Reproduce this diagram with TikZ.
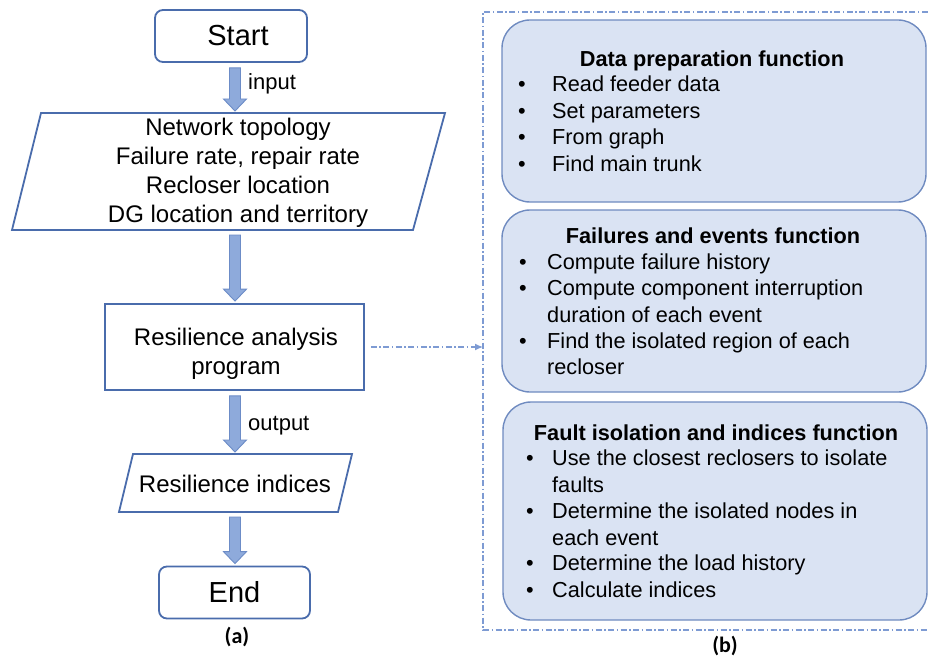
\documentclass[tikz,border=0pt]{standalone}
\usepackage{fontspec}
\setmainfont{Liberation Sans}
\newfontfamily\capfont{Carlito}
\usetikzlibrary{calc,arrows.meta}

\definecolor{outln}{HTML}{4A6CAC}
\definecolor{arrfill}{HTML}{8EAADB}
\definecolor{arrline}{HTML}{6C8CC7}
\definecolor{fnfill}{HTML}{DAE3F3}
\definecolor{fnline}{HTML}{6F8BC0}
\definecolor{dashc}{HTML}{7E9BD3}

% vertical block arrow between two anchors, on the flowchart axis
\newcommand{\blockarrow}[2]{%
  \path[blockarr] let \p1=(#1), \p2=(#2) in
    ({235pt-5.5pt},{\y1-5pt}) -- ({235pt+5.5pt},{\y1-5pt}) --
    ({235pt+5.5pt},{\y2+14pt}) -- ({235pt+11.5pt},{\y2+14pt}) --
    ({235pt},{\y2+2pt}) -- ({235pt-11.5pt},{\y2+14pt}) --
    ({235pt-5.5pt},{\y2+14pt}) -- cycle;}

\begin{document}
\begin{tikzpicture}[x=1pt,y=-1pt,
  flowline/.style={draw=outln, line width=1.8pt},
  termbox/.style={flowline, rounded corners=8pt, minimum width=152pt,
    minimum height=52pt, inner sep=0pt, font=\fontsize{29}{34}\selectfont},
  procbox/.style={flowline, minimum width=259pt, minimum height=86pt, inner sep=0pt},
  ptext/.style={font=\fontsize{24}{29}\selectfont, align=center, inner sep=0pt},
  lbl/.style={font=\fontsize{22}{26}\selectfont, anchor=base west, inner sep=0pt},
  blockarr/.style={fill=arrfill, draw=arrline, line width=0.9pt, line join=miter},
  panel/.style={draw=dashc, line width=1.2pt,
    dash pattern=on 6pt off 2.5pt on 1.5pt off 2.5pt},
  link/.style={draw=dashc, line width=1.2pt,
    dash pattern=on 6pt off 2.5pt on 1.5pt off 2.5pt,
    -{Latex[length=8pt,width=7pt]}, shorten <=6pt},
  fnbox/.style={draw=fnline, fill=fnfill, line width=1.4pt, rounded corners=28pt,
    minimum width=424pt, minimum height=182pt, inner sep=0pt},
  fntitle/.style={font=\bfseries\fontsize{21.7}{26.5}\selectfont, anchor=base, inner sep=0pt},
  fnitem/.style={font=\fontsize{21.7}{26.5}\selectfont, anchor=base west, inner sep=0pt},
  fndot/.style={font=\fontsize{21.7}{26.5}\selectfont, anchor=base west, inner sep=0pt},
  sub/.style={font=\capfont\bfseries\fontsize{22}{26}\selectfont, anchor=base, inner sep=0pt}]
\useasboundingbox (0,0) rectangle (929,658);

% ---------- (a) flowchart ----------
\node[termbox] (start) at (231,36) {\hspace*{14pt}Start};

\draw[flowline] (41,113) -- (445,113) -- (413,230) -- (12,230) -- cycle;
\coordinate (in-n) at (235,113);
\coordinate (in-s) at (235,230);
\node[ptext] (inputs) at (238,172.8)
  {Network topology\\Failure rate, repair rate\\Recloser location\\DG location and territory};

\node[procbox] (prog) at (234.5,347) {};
\node[ptext] (progtext) at (236,353.3) {Resilience analysis\\program};

\draw[flowline] (133,454) -- (352,454) -- (338,512) -- (119,512) -- cycle;
\coordinate (out-n) at (235,454);
\coordinate (out-s) at (235,512);
\node[ptext] (results) at (235,484) {Resilience indices};

\node[termbox, minimum width=151pt] (end) at (234.5,592.5) {End};

\blockarrow{start.south}{in-n}
\blockarrow{in-s}{prog.north}
\blockarrow{prog.south}{out-n}
\blockarrow{out-s}{end.north}

\node[lbl] (inlbl) at (248,90) {input};
\node[lbl] (outlbl) at (248,430) {output};

\node[sub] (cap-a) at (237,643) {(a)};

% ---------- (b) program functions ----------
\draw[panel] (940,12) -- (483,12) -- (483,630) -- (940,630);
\coordinate (panel-in) at (483,346);
\draw[link] (prog.east) -- (prog.east -| panel-in);

\node[fnbox] (f1) at (714,111) {};
\node[fntitle] (f1t) at (712,67) {Data preparation function};
\node[fndot] (f1d1) at (518,92) {\textbullet};
\node[fnitem] (f1i1) at (552,92) {Read feeder data};
\node[fndot] (f1d2) at (518,118.5) {\textbullet};
\node[fnitem] (f1i2) at (552,118.5) {Set parameters};
\node[fndot] (f1d3) at (518,145) {\textbullet};
\node[fnitem] (f1i3) at (552,145) {From graph};
\node[fndot] (f1d4) at (518,171.5) {\textbullet};
\node[fnitem] (f1i4) at (552,171.5) {Find main trunk};

\node[fnbox] (f2) at (714,301) {};
\node[fntitle] (f2t) at (713,243) {Failures and events function};
\node[fndot] (f2d1) at (519,269) {\textbullet};
\node[fnitem] (f2i1) at (547,269) {Compute failure history};
\node[fndot] (f2d2) at (519,295.5) {\textbullet};
\node[fnitem] (f2i2) at (547,295.5) {Compute component interruption};
\node[fnitem] (f2i2b) at (547,322) {duration of each event};
\node[fndot] (f2d3) at (519,348) {\textbullet};
\node[fnitem] (f2i3) at (547,348) {Find the isolated region of each};
\node[fnitem] (f2i3b) at (547,374) {recloser};

\node[fnbox, minimum height=218pt] (f3) at (715,511) {};
\node[fntitle] (f3t) at (716,440) {Fault isolation and indices function};
\node[fndot] (f3d1) at (526,465) {\textbullet};
\node[fnitem] (f3i1) at (552,465) {Use the closest reclosers to isolate};
\node[fnitem] (f3i1b) at (552,492) {faults};
\node[fndot] (f3d2) at (526,518) {\textbullet};
\node[fnitem] (f3i2) at (552,518) {Determine the isolated nodes in};
\node[fnitem] (f3i2b) at (552,545) {each event};
\node[fndot] (f3d3) at (526,570) {\textbullet};
\node[fnitem] (f3i3) at (552,570) {Determine the load history};
\node[fndot] (f3d4) at (526,597) {\textbullet};
\node[fnitem] (f3i4) at (552,597) {Calculate indices};

\node[sub] (cap-b) at (725,652) {(b)};
\end{tikzpicture}
\end{document}
